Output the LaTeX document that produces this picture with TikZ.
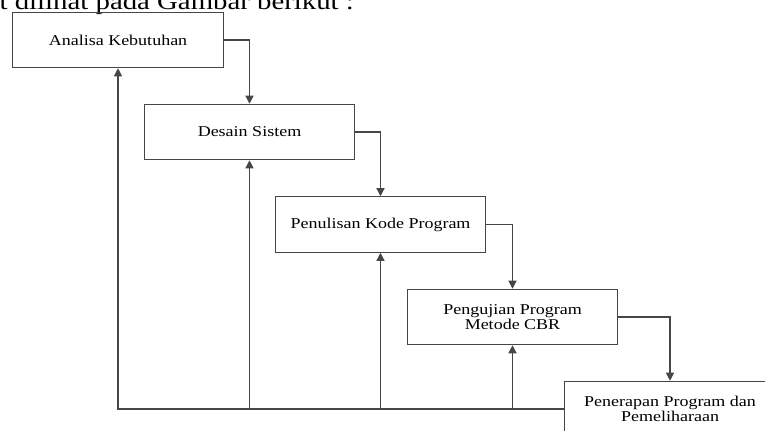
\documentclass[tikz,border=0pt]{standalone}
\usepackage{fontspec}
\setmainfont{Liberation Serif}[FakeStretch=1.2]
\usetikzlibrary{arrows.meta}
\definecolor{garis}{RGB}{70,70,70}
\tikzset{every picture/.style={line width=0.9pt}}

\begin{document}
\begin{tikzpicture}[
            x=0.75pt,
            y=0.75pt,
            yscale=-1,
            xscale=1,
            every node/.style={text=black},
            tahap/.style={draw=garis, minimum width=158pt, minimum height=41.5pt, inner sep=0pt, align=center, font=\fontsize{11.25}{11.6}\selectfont},
            alur/.style={draw=garis, -{Triangle[length=6pt,width=6pt]}},
            line width=0.9pt
        ]
            \useasboundingbox (0,0) rectangle (765,430);
            \clip (0,0) rectangle (765,430);

            \draw (-1,9) node (kalimat) [anchor=base west, inner sep=0pt, font=\fontsize{18}{20}\selectfont] {t dilihat pada Gambar berikut :};

            \draw (118,40) node (analisa) [tahap] {Analisa Kebutuhan};
            \draw (249.5,132) node (desain) [tahap] {Desain Sistem};
            \draw (380.5,224.5) node (kode) [tahap] {Penulisan Kode Program};
            \draw (512.5,317) node (uji) [tahap] {Pengujian Program\\Metode CBR};
            \draw (670,409) node (terap) [tahap] {Penerapan Program dan\\Pemeliharaan};

            \draw [alur] (analisa.east) -| (desain.north);
            \draw [alur] (desain.east) -| (kode.north);
            \draw [alur] (kode.east) -| (uji.north);
            \draw [alur] (uji.east) -| (terap.north);

            \draw [alur] (terap.west) -| (analisa.south);
            \draw [alur] (terap.west -| desain.south) -- (desain.south);
            \draw [alur] (terap.west -| kode.south) -- (kode.south);
            \draw [alur] (terap.west -| uji.south) -- (uji.south);
        \end{tikzpicture}
\end{document}
